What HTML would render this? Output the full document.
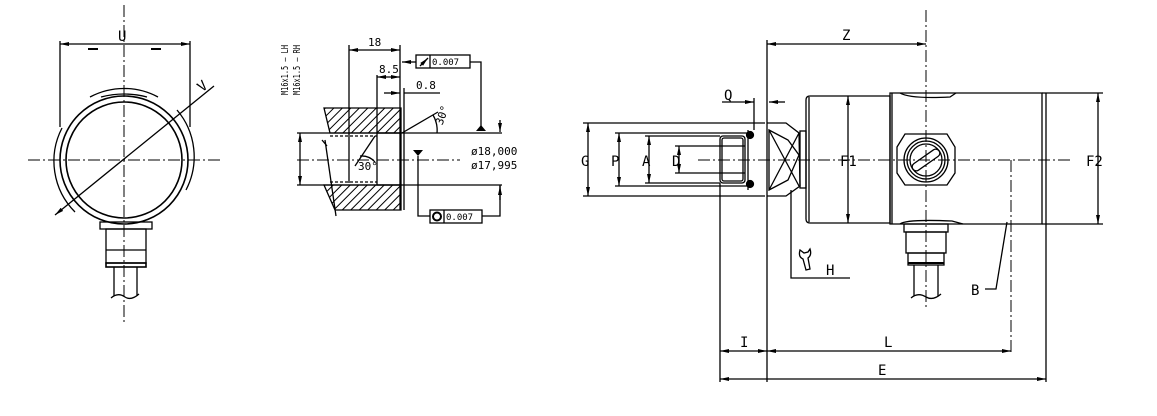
<!DOCTYPE html>
<html><head><meta charset="utf-8"><style>
html,body{margin:0;padding:0;background:#fff;}
svg{display:block;}
text{font-family:"DejaVu Sans Mono","Liberation Mono",monospace;fill:#000;}
</style></head><body>
<svg width="1157" height="416" viewBox="0 0 1157 416" xmlns="http://www.w3.org/2000/svg">
<defs>
<marker id="a" markerWidth="10" markerHeight="6" refX="9" refY="3" orient="auto-start-reverse" markerUnits="userSpaceOnUse"><path d="M0,1 L9,3 L0,5 z" fill="#000"/></marker>
<pattern id="h" width="6" height="6" patternUnits="userSpaceOnUse" patternTransform="rotate(45)"><line x1="0" y1="0" x2="0" y2="6" stroke="#000" stroke-width="2"/></pattern>
</defs>
<g fill="none" stroke="#000" stroke-width="1.3">
<g stroke-dasharray="12,3,2,3" stroke-width="1">
<line x1="124" y1="5" x2="124" y2="322"/>
<line x1="28" y1="160" x2="221" y2="160"/>
</g>
<circle cx="124" cy="160" r="64" stroke-width="1.6"/>
<circle cx="124" cy="160" r="58" stroke-width="1.6"/>
<path d="M90 97 A72 72 0 0 1 158 97"/>
<path d="M62 128 A72 72 0 0 0 75 212"/>
<path d="M186 190 A72 72 0 0 0 177 110"/>
<path d="M101 97 Q124 91 147 97" />
<line x1="60" y1="44" x2="190" y2="44" marker-start="url(#a)" marker-end="url(#a)"/>
<line x1="60" y1="41" x2="60" y2="127"/>
<line x1="190" y1="41" x2="190" y2="127"/>
<line x1="88" y1="49" x2="98" y2="49" stroke-width="2"/>
<line x1="151" y1="49" x2="161" y2="49" stroke-width="2"/>
<line x1="55" y1="215" x2="214" y2="86" marker-start="url(#a)"/>
<rect x="100" y="222" width="52" height="7"/>
<rect x="106" y="229" width="40" height="34"/>
<line x1="106" y1="250" x2="146" y2="250"/>
<rect x="106" y="263" width="40" height="4" stroke-width="1.6"/>
<line x1="114" y1="267" x2="114" y2="296"/><line x1="137" y1="267" x2="137" y2="296"/>
<path d="M111 298 Q118 292 125 297 Q131 301 139 294"/>
<path d="M324 108 L401 108 L401 133 L330 133 Z" fill="url(#h)"/>
<path d="M324 185 L401 185 L401 210 L335 210 Z" fill="url(#h)"/>
<line x1="297" y1="133" x2="502" y2="133"/>
<line x1="297" y1="185" x2="502" y2="185"/>
<line x1="330" y1="136" x2="377" y2="136" stroke-dasharray="3,2"/>
<line x1="330" y1="182" x2="377" y2="182" stroke-dasharray="3,2"/>
<rect x="377" y="133" width="24" height="52"/>
<line x1="325" y1="140" x2="336" y2="216"/>
<line x1="322" y1="140" x2="327" y2="146"/>
<line x1="349" y1="45" x2="349" y2="183"/>
<line x1="400" y1="45" x2="400" y2="210"/>
<line x1="404" y1="88" x2="404" y2="210"/>
<line x1="377" y1="75" x2="377" y2="133"/>
<line x1="349" y1="50" x2="400" y2="50" marker-start="url(#a)" marker-end="url(#a)"/>
<line x1="377" y1="77" x2="400" y2="77" marker-start="url(#a)" marker-end="url(#a)"/>
<line x1="384" y1="93" x2="400" y2="93" marker-end="url(#a)"/>
<line x1="404" y1="93" x2="440" y2="93"/>
<line x1="402" y1="133" x2="438" y2="112"/>
<path d="M433 115 A30 30 0 0 1 437 133"/>
<line x1="375" y1="136" x2="355" y2="166"/>
<path d="M360 156 A18 18 0 0 1 375 162"/>
<line x1="300" y1="133" x2="300" y2="185" marker-start="url(#a)" marker-end="url(#a)"/>
<line x1="297" y1="160" x2="460" y2="160" stroke-dasharray="12,3,2,3" stroke-width="1"/>
<rect x="416" y="55" width="54" height="13"/>
<line x1="430" y1="55" x2="430" y2="68"/>
<line x1="420" y1="66" x2="428" y2="58" marker-end="url(#a)"/>
<line x1="416" y1="62" x2="402" y2="62" marker-end="url(#a)"/>
<polyline points="470,62 481,62 481,126"/>
<rect x="430" y="210" width="52" height="13"/>
<line x1="444" y1="210" x2="444" y2="223"/>
<circle cx="437" cy="216.5" r="4" stroke-width="2"/>
<polyline points="430,216 418,216 418,156"/>
<polyline points="482,216 500,216 500,185" />
<line x1="500" y1="200" x2="500" y2="186" marker-end="url(#a)"/>
<line x1="500" y1="120" x2="500" y2="132" marker-end="url(#a)"/>
<g stroke-dasharray="12,3,2,3" stroke-width="1">
<line x1="698" y1="160" x2="1070" y2="160"/>
<line x1="926" y1="10" x2="926" y2="310"/>
<line x1="1011" y1="160" x2="1011" y2="355"/>
</g>
<line x1="583" y1="123" x2="765" y2="123"/>
<line x1="583" y1="196" x2="765" y2="196"/>
<line x1="615" y1="133" x2="748" y2="133"/>
<line x1="615" y1="186" x2="748" y2="186"/>
<line x1="645" y1="136" x2="720" y2="136"/>
<line x1="645" y1="183" x2="720" y2="183"/>
<line x1="675" y1="146" x2="745" y2="146"/>
<line x1="675" y1="173" x2="745" y2="173"/>
<line x1="588" y1="123" x2="588" y2="196" marker-start="url(#a)" marker-end="url(#a)"/>
<line x1="619" y1="133" x2="619" y2="186" marker-start="url(#a)" marker-end="url(#a)"/>
<line x1="649" y1="136" x2="649" y2="183" marker-start="url(#a)" marker-end="url(#a)"/>
<line x1="679" y1="146" x2="679" y2="173" marker-start="url(#a)" marker-end="url(#a)"/>
<rect x="720" y="136" width="25" height="47" rx="3"/>
<rect x="722" y="138" width="21" height="43" rx="2"/>
<line x1="748" y1="130" x2="748" y2="190"/>
<circle cx="750" cy="135" r="3.5" fill="#000"/>
<circle cx="750" cy="184" r="3.5" fill="#000"/>
<line x1="720" y1="183" x2="720" y2="382"/>
<line x1="767" y1="40" x2="767" y2="382"/>
<path d="M767 123 L786 123 L799 133 L800 186 L786 196 L767 196"/>
<path d="M769 130 L788 140 L799 155 L788 180 L769 190 Z"/>
<line x1="769" y1="130" x2="799" y2="186"/><line x1="769" y1="190" x2="799" y2="133"/>
<rect x="800" y="131" width="6" height="57"/>
<path d="M806 100 Q806 96 810 96 L890 96 L890 223 L810 223 Q806 223 806 219 Z"/>
<line x1="809" y1="97" x2="809" y2="222"/>
<path d="M890 93 L1042 93 L1042 224 L890 224 Z"/>
<path d="M892 93 L892 224"/>
<line x1="1046" y1="93" x2="1046" y2="224"/>
<path d="M900 93 Q910 99 950 97 L956 93" />
<path d="M900 224 Q906 219 952 221 L963 224"/>
<path d="M897 147 L905 134 L947 134 L955 147 L955 173 L947 185 L905 185 L897 173 Z"/>
<circle cx="926" cy="160" r="22"/>
<circle cx="926" cy="160" r="19"/>
<circle cx="926" cy="160" r="16"/>
<rect x="910" y="156" width="32" height="8" rx="4" transform="rotate(-35 926 160)"/>
<line x1="1042" y1="93" x2="1103" y2="93"/>
<line x1="1042" y1="224" x2="1103" y2="224"/>
<line x1="1098" y1="93" x2="1098" y2="224" marker-start="url(#a)" marker-end="url(#a)"/>
<line x1="848" y1="96" x2="848" y2="223" marker-start="url(#a)" marker-end="url(#a)"/>
<rect x="904" y="224" width="44" height="8"/>
<rect x="906" y="232" width="40" height="21"/>
<rect x="908" y="253" width="36" height="12"/>
<line x1="908" y1="263" x2="944" y2="263" stroke-width="2"/>
<line x1="914" y1="265" x2="914" y2="296"/><line x1="938" y1="265" x2="938" y2="296"/>
<path d="M911 298 Q918 292 926 297 Q933 301 941 294"/>
<line x1="1046" y1="224" x2="1046" y2="382"/>
<polyline points="1007,222 996,289 985,289"/>
<line x1="767" y1="44" x2="926" y2="44" marker-start="url(#a)" marker-end="url(#a)"/>
<line x1="722" y1="102" x2="754" y2="102" marker-end="url(#a)"/>
<line x1="785" y1="102" x2="769" y2="102" marker-end="url(#a)"/>
<line x1="754" y1="98" x2="754" y2="130"/>
<polyline points="791,190 791,278 850,278"/>
<path d="M800 250 Q798 257 803 259 L806 270 L810 269 L808 258 Q812 255 810 249 L808 252 L804 253 Z"/>
<line x1="720" y1="351" x2="767" y2="351" marker-start="url(#a)" marker-end="url(#a)"/>
<line x1="767" y1="351" x2="1011" y2="351" marker-start="url(#a)" marker-end="url(#a)"/>
<line x1="720" y1="379" x2="1046" y2="379" marker-start="url(#a)" marker-end="url(#a)"/>
</g>
<polygon points="476,131 486,131 481,125" fill="#000"/>
<polygon points="413,150 423,150 418,156" fill="#000"/>
<g font-size="14">
<text x="118" y="41">U</text>
<text x="198" y="89" transform="rotate(-39 205 85)">V</text>
<text x="581" y="166">G</text>
<text x="611" y="166">P</text>
<text x="642" y="166">A</text>
<text x="672" y="166">D</text>
<text x="724" y="100">Q</text>
<text x="840" y="166">F1</text>
<text x="1086" y="166">F2</text>
<text x="842" y="40">Z</text>
<text x="826" y="275">H</text>
<text x="971" y="295">B</text>
<text x="740" y="347">I</text>
<text x="884" y="347">L</text>
<text x="878" y="375">E</text>
</g>
<g font-size="11">
<text x="368" y="46">18</text>
<text x="379" y="73">8.5</text>
<text x="416" y="89">0.8</text>
<text x="471" y="155">ø18,000</text>
<text x="471" y="169">ø17,995</text>
<text x="434" y="126" transform="rotate(-70 438 120)">30°</text>
<text x="358" y="170">30°</text>
</g>
<g font-size="10">
<text x="288" y="95" transform="rotate(-90 288 95)" textLength="50" lengthAdjust="spacingAndGlyphs">M16x1.5 – LH</text>
<text x="300" y="95" transform="rotate(-90 300 95)" textLength="50" lengthAdjust="spacingAndGlyphs">M16x1.5 – RH</text>
</g>
<g font-size="9"><text x="432" y="65">0.007</text><text x="446" y="220">0.007</text></g>
</svg>
</body></html>
